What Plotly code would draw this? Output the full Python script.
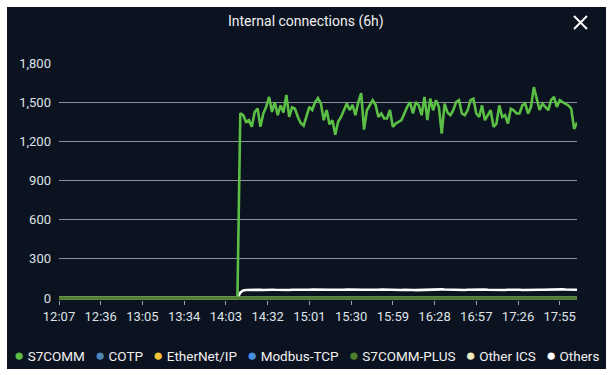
import plotly.graph_objects as go
import pandas as pd

# ---------------- data ----------------
start = pd.Timestamp("2024-01-01 12:07")
times = [start + pd.Timedelta(minutes=2 * i) for i in range(181)]  # 12:07 .. 18:07

zeros_before = [0] * 63  # 12:07 .. 14:11

s7comm_active = [
    1415, 1400, 1349, 1362, 1311, 1425, 1451, 1311, 1413, 1464, 1540, 1425, 1500, 1400, 1475, 1420, 1555, 1387, 1460,
    1450, 1387, 1340, 1320, 1400, 1464, 1440, 1500, 1530, 1489, 1362, 1440, 1330, 1362, 1250, 1350, 1387, 1440, 1489, 1440,
    1480, 1400, 1500, 1570, 1290, 1438, 1475, 1515, 1480, 1387, 1413, 1375, 1375, 1440, 1311, 1336, 1349, 1362, 1413, 1464,
    1500, 1413, 1500, 1475, 1400, 1540, 1362, 1527, 1438, 1515, 1464, 1260, 1489, 1420, 1400, 1438, 1500, 1515, 1413, 1400,
    1438, 1515, 1527, 1413, 1387, 1475, 1362, 1400, 1438, 1311, 1336, 1475, 1387, 1400, 1336, 1450, 1438, 1413, 1413, 1475,
    1489, 1413, 1464, 1615, 1520, 1440, 1489, 1464, 1438, 1515, 1540, 1464, 1515, 1500, 1489, 1475, 1450, 1295, 1345,
]
others_active = [
    42, 58, 62, 63, 62, 63, 64, 63, 62, 64,
    65, 64, 63, 62, 63, 64, 63, 62, 63, 65,
    64, 63, 62, 63, 64, 65, 64, 63, 62, 63,
    62, 63, 64, 63, 62, 63, 64, 65, 64, 63,
    62, 61, 62, 63, 64, 63, 62, 63, 64, 65,
    64, 63, 62, 63, 64, 63, 62, 63, 64, 63,
    62, 61, 62, 63, 64, 63, 62, 63, 64, 65,
    66, 65, 64, 63, 62, 63, 64, 63, 62, 63,
    64, 63, 62, 63, 64, 65, 64, 63, 62, 63,
    64, 63, 62, 63, 64, 65, 64, 63, 62, 63,
    64, 65, 66, 65, 64, 63, 64, 65, 66, 65,
    64, 65, 66, 65, 64, 65, 64, 63,
]
s7comm = zeros_before + s7comm_active
others = zeros_before + others_active
cotp = [0] * 181
ethernet_ip = [0] * 181
modbus_tcp = [0] * 181
s7comm_plus = [0] * 181
other_ics = [0] * 181

series_names = ["S7COMM", "COTP", "EtherNet/IP", "Modbus-TCP", "S7COMM-PLUS", "Other ICS", "Others"]
series_values = [s7comm, cotp, ethernet_ip, modbus_tcp, s7comm_plus, other_ics, others]
series_colors = ["#5cbf45", "#4a86b8", "#f5c53c", "#4a90e2", "#4f7f2c", "#efe9c0", "#ffffff"]

y_tickvals = [0, 300, 600, 900, 1200, 1500, 1800]
x_tickvals = [start + pd.Timedelta(minutes=29 * i) for i in range(13)]
x_ticktext = [t.strftime("%H:%M") for t in x_tickvals]

# ---------------- figure ----------------
FONT = "Roboto"
fig = go.Figure()

draw_order = [1, 2, 3, 5, 6, 0, 4]
for i in draw_order:
    fig.add_trace(go.Scatter(
        x=times, y=series_values[i], mode="lines", name=series_names[i],
        line=dict(color=series_colors[i], width=2.6 if i != 4 else 3.2),
        showlegend=False,
    ))

# legend as text
parts = []
for name, col in zip(series_names, series_colors):
    parts.append(f'<span style="color:{col};font-size:17px">●</span>\u00a0{name}')
legend_text = "\u00a0\u00a0\u00a0".join(parts)

fig.update_layout(
    width=611, height=375,
    margin=dict(l=59, r=34, t=63, b=75),
    paper_bgcolor="#ffffff",
    plot_bgcolor="rgba(0,0,0,0)",
    font=dict(family=FONT, color="#dfe3e8", size=13),
    showlegend=False,
    shapes=[
        dict(type="rect", xref="paper", yref="paper", x0=-0.1004, x1=1.056, y0=-0.2911, y1=1.2363,
             fillcolor="#0b1220", line=dict(width=0), layer="below"),
        dict(type="line", xref="paper", yref="paper", x0=0.9942, x1=1.0193, y0=1.198, y1=1.1435,
             line=dict(color="#ffffff", width=2)),
        dict(type="line", xref="paper", yref="paper", x0=0.9942, x1=1.0193, y0=1.1435, y1=1.198,
             line=dict(color="#ffffff", width=2)),
    ],
    annotations=[
        dict(text="Internal connections (6h)", xref="paper", yref="paper", x=(306 - 59) / 518, y=1.173,
             showarrow=False, xanchor="center", yanchor="middle",
             font=dict(family=FONT, size=14, color="#f0f0f0")),
        dict(text=legend_text, xref="paper", yref="paper", x=(306 - 59) / 518, y=-0.232,
             showarrow=False, xanchor="center", yanchor="middle",
             font=dict(family=FONT, size=13.5, color="#f0f0f0")),
    ],
)

fig.update_xaxes(
    type="date",
    range=[times[0], times[-1]],
    tickvals=x_tickvals, ticktext=x_ticktext,
    showgrid=False, zeroline=False, showline=False,
    ticks="outside", ticklen=4, tickwidth=1, tickcolor="#9aa0a8",
    tickfont=dict(family=FONT, size=13, color="#dfe3e8"),
)
fig.update_yaxes(
    range=[-15, 1800],
    tickvals=y_tickvals, tickformat=",d",
    showgrid=True, gridcolor="#8b9099", gridwidth=1,
    zeroline=False, showline=False,
    ticks="", ticklabelstandoff=7,
    tickfont=dict(family=FONT, size=13, color="#dfe3e8"),
)

fig.write_html("out.html")
